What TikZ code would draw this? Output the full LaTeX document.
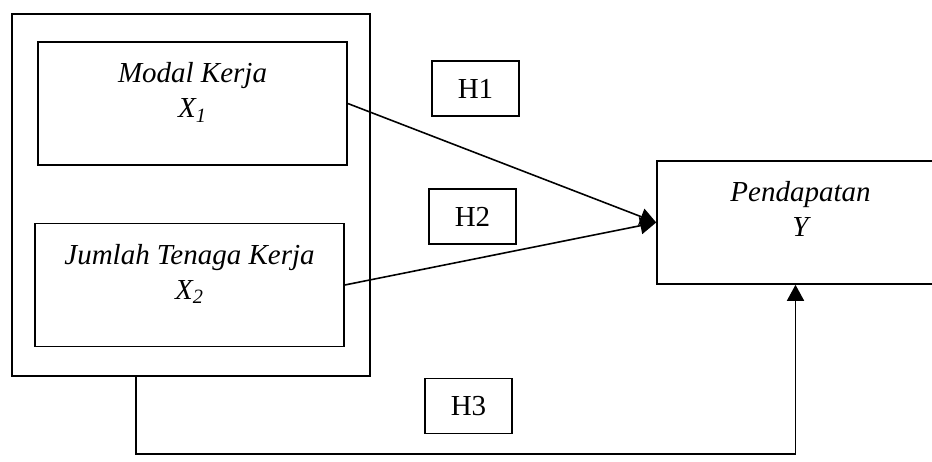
\documentclass[tikz,border=0pt]{standalone}
\usepackage{fontspec}
\setmainfont{Liberation Serif}
\usetikzlibrary{positioning,arrows.meta}

\begin{document}
\begin{tikzpicture}[
    varbox/.style={draw,line width=0.9pt,minimum width=6.18cm,minimum height=2.46cm},
    vartext/.style={inner sep=0pt,align=center,font=\fontsize{16.5}{20}\selectfont\itshape},
    hypbox/.style={draw,line width=0.9pt,minimum width=1.74cm,minimum height=1.1cm,font=\fontsize{16.5}{20}\selectfont},
    arrow/.style={-{Triangle[length=3.2mm,width=3.4mm]},line width=0.9pt},
]
\clip (0,0) rectangle (18.64,9.24);
\useasboundingbox (0,0) rectangle (18.64,9.24);
% outer frame around both independent variables
\node[draw,line width=0.9pt,minimum width=7.16cm,minimum height=7.24cm] (outer) at (3.82,5.34) {};
\node[varbox] (x1) at (3.85,7.17) {};
\node[varbox] (x2) at (3.79,3.54) {};
\node[varbox,minimum width=5.54cm] (pend) at (15.91,4.79) {};
% texts sit at the top of their boxes
\node[vartext,below=0.42cm of x1.north] {Modal Kerja\\X\textsubscript{1}};
\node[vartext,below=0.42cm of x2.north] {Jumlah Tenaga Kerja\\X\textsubscript{2}};
\node[vartext,below=0.42cm of pend.north,xshift=0.1cm] {Pendapatan\\Y};
% hypotheses
\node[hypbox] (h1) at (9.51,7.47) {H1};
\node[hypbox] (h2) at (9.45,4.91) {H2};
\node[hypbox] (h3) at (9.37,1.12) {H3};
\draw[arrow] (x1.east) -- (pend.west);
\draw[arrow] (x2.east) -- (pend.west);
% joint effect runs round underneath
\coordinate (turn) at (2.72,0.16);
\draw[arrow] (outer.south -| turn) -- (turn) -| (pend.south);
\end{tikzpicture}
\end{document}
